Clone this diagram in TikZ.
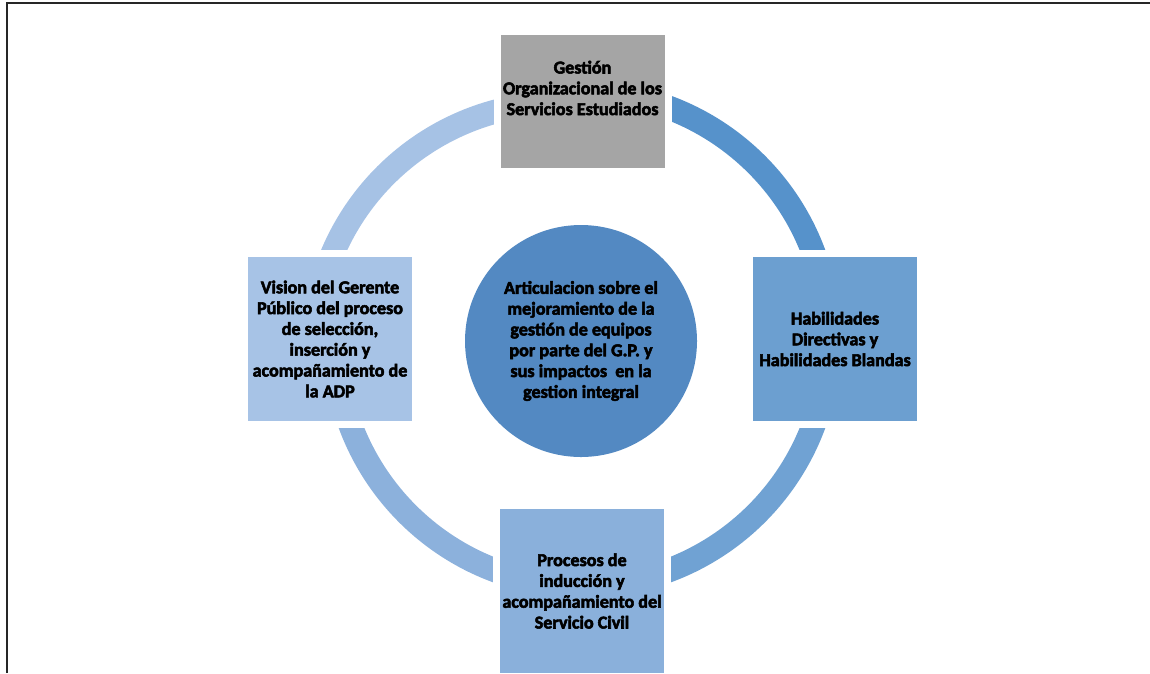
\documentclass[tikz,border=0pt]{standalone}
\usepackage{fontspec}
\setmainfont{Carlito}[BoldFeatures={FakeBold=3}]
\usepackage{xcolor}
\usetikzlibrary{positioning}
\definecolor{grisbox}{HTML}{A5A5A5}
\definecolor{azulcir}{HTML}{5389C2}
\definecolor{azulder}{HTML}{6C9FD0}
\definecolor{azulinf}{HTML}{8AB0DB}
\definecolor{azulizq}{HTML}{A7C3E6}
\definecolor{arcoA}{HTML}{5692CB}
\definecolor{arcoB}{HTML}{70A2D3}
\definecolor{arcoC}{HTML}{8CB1DC}
\definecolor{arcoD}{HTML}{A6C2E5}

\begin{document}
\begin{tikzpicture}[x=1pt, y=-1pt, every node/.style={align=center, inner sep=0pt, font=\bfseries\fontsize{18.1}{20.8}\selectfont},
  caja/.style={rectangle, draw=white, line width=7pt, minimum width=171pt, minimum height=171pt},
  arco/.style={line width=24pt, line cap=butt}]
\useasboundingbox (0,0) rectangle (1150,673);

% marco
\draw[line width=1.6pt, black!85] (7,673) -- (7,3) -- (1150,3);

% anillo
\draw[arco, arcoA] (582,339) ++(-90:247) arc[start angle=-90, end angle=0, radius=247];
\draw[arco, arcoB] (582,339) ++(0:247) arc[start angle=0, end angle=90, radius=247];
\draw[arco, arcoC] (582,339) ++(90:247) arc[start angle=90, end angle=180, radius=247];
\draw[arco, arcoD] (560,350) ++(190:247) arc[start angle=190, end angle=265, radius=247];

% cajas
\node[caja, fill=grisbox, minimum height=140pt] (gestion) at (582.5,101.5) {};
\node (gestiontxt) at (582.5,88) {Gestión\\Organizacional de los\\Servicios Estudiados};

\node[caja, fill=azulder] (habil) at (835,339) {Habilidades\\Directivas y\\Habilidades Blandas};

\node[caja, fill=azulinf] (proc) at (582,591) {Procesos de\\inducción y\\acompañamiento del\\Servicio Civil};

\node[caja, fill=azulizq] (vision) at (330,339) {Vision del Gerente\\Público del proceso\\de selección,\\inserción y\\acompañamiento de\\la ADP};

% centro
\node[circle, fill=azulcir, minimum size=232pt] (artic) at (581,341) {Articulacion sobre el\\mejoramiento de la\\gestión de equipos\\por parte del G.P. y\\sus impactos\ \ en la\\gestion integral};
\end{tikzpicture}
\end{document}
